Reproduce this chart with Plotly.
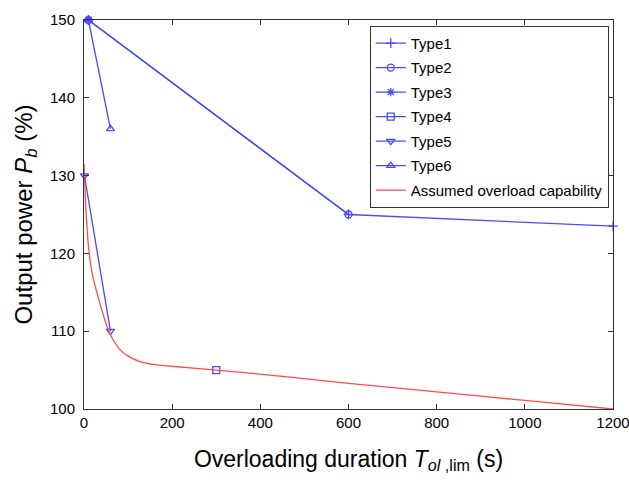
import plotly.graph_objects as go

# Overload capability of the converter types (duration s, output power %)
type1_t = [10, 600, 1200]
type1_p = [150, 125, 123.5]
type2_t = [10, 600]
type2_p = [150, 125]
type3_t = [10]
type3_p = [150]
type4_t = [300]
type4_p = [105]
type5_t = [1, 60]
type5_p = [130, 110]
type6_t = [10, 60]
type6_p = [150, 136]

# Assumed overload capability curve
assumed_t = [0, 5, 11, 20, 34, 51, 65, 82, 100, 127, 160, 218, 300, 450, 600, 800, 1000, 1200]
assumed_p = [131.5, 125, 120.4, 117, 114, 110.8, 109, 107.6, 106.8, 106.1, 105.7, 105.4,
             105, 104.2, 103.3, 102.2, 101.1, 100.0]

x_ticks = [0, 200, 400, 600, 800, 1000, 1200]
y_ticks = [100, 110, 120, 130, 140, 150]

BLUE = "#4a4aff"
RED = "#ff4a4a"
FONT = "Liberation Sans, Arial, sans-serif"

fig = go.Figure()

series = [
    ("Type1", type1_t, type1_p, "cross-thin-open"),
    ("Type2", type2_t, type2_p, "circle-open"),
    ("Type3", type3_t, type3_p, "asterisk-open"),
    ("Type4", type4_t, type4_p, "square-open"),
    ("Type5", type5_t, type5_p, "triangle-down-open"),
    ("Type6", type6_t, type6_p, "triangle-up-open"),
]
for name, t, p, sym in series:
    fig.add_trace(go.Scatter(
        x=t, y=p, name=name, mode="lines+markers", legendgroup=name,
        line=dict(color=BLUE, width=1.3),
        marker=dict(symbol=sym, size=7, color=BLUE, line=dict(color=BLUE, width=1.3)),
        cliponaxis=False,
    ))

fig.add_trace(go.Scatter(
    x=assumed_t, y=assumed_p, name="Assumed overload capability", mode="lines",
    legendgroup="assumed",
    line=dict(color=RED, width=1.3, shape="spline", smoothing=0.6),
))

axis_common = dict(
    showline=True, linecolor="#333333", linewidth=1, mirror="ticks",
    ticks="inside", ticklen=5, tickcolor="#333333",
    showgrid=False, zeroline=False, ticklabeloverflow="allow",
    tickfont=dict(family=FONT, size=15, color="black"),
)

fig.update_xaxes(
    range=[0, 1200], tickvals=x_ticks, ticktext=[str(v) for v in x_ticks],
    title=dict(text="Overloading duration <i>T<sub>ol</sub></i><sub> ,lim</sub> (s)",
               font=dict(family=FONT, size=23, color="black"),
               standoff=20),
    **axis_common,
)
fig.update_yaxes(
    range=[100, 150], tickvals=y_ticks, ticktext=[str(v) for v in y_ticks],
    ticklabelstandoff=5,
    title=dict(text="Output power <i>P<sub>b</sub></i> (%)",
               font=dict(family=FONT, size=24, color="black"),
               standoff=10),
    **axis_common,
)

fig.update_layout(
    width=629, height=484,
    margin=dict(l=84, r=16, t=20, b=75, autoexpand=False),
    plot_bgcolor="white", paper_bgcolor="white",
    showlegend=True,
    legend=dict(
        x=0.992, y=0.985, xanchor="right", yanchor="top",
        bgcolor="white", bordercolor="#333333", borderwidth=1,
        font=dict(family=FONT, size=15, color="black"),
        itemwidth=30, tracegroupgap=2,
    ),
)

fig.write_html("out.html")
